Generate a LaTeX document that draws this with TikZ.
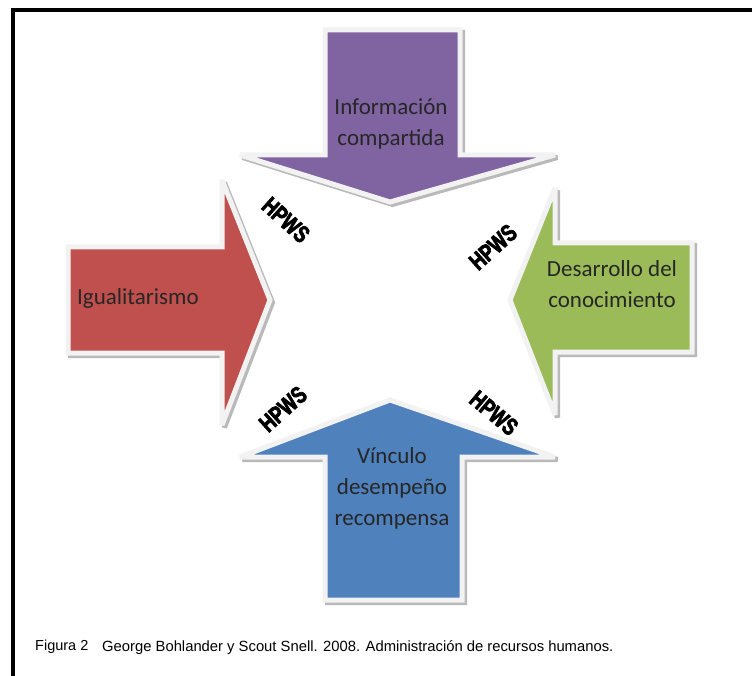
\documentclass[tikz,border=0pt]{standalone}
\usepackage{fontspec}
\setmainfont{Carlito}
\newfontfamily\capfont{Liberation Sans}
\newfontfamily\hpwsfont[FakeStretch=0.75,FakeBold=3]{Liberation Sans Bold}
\definecolor{infopurple}{HTML}{8064A2}
\definecolor{igualred}{HTML}{C0504D}
\definecolor{desagreen}{HTML}{9BBB59}
\definecolor{vincblue}{HTML}{4F81BD}
\begin{document}
\begin{tikzpicture}[x=1pt,y=-1pt,
        flecha/.style={fill=#1, draw=gray!10, line width=5pt, line join=miter, miter limit=1.5},
        sombra/.style={fill=gray!55, draw=gray!55, line width=5pt, line join=miter, miter limit=1.5, shift={(2.5,2.5)}},
        texto/.style={align=center, text=black!85, inner sep=0pt, font=\fontsize{23}{31}\selectfont},
        hpws/.style={inner sep=0pt, font=\hpwsfont\fontsize{24}{24}\selectfont}]
            \useasboundingbox (0,0) rectangle (752,676);
            \fill[white] (0,0) rectangle (752,676);
            \draw[line width=4pt, line join=miter] (13,676) -- (13,10.5) -- (752,10.5);
            \draw[sombra] (325,30) -- (460,30) -- (460,155) -- (555,155) -- (390,202) -- (240,155) -- (325,155) -- cycle;
            \draw[flecha=infopurple] (325,30) -- (460,30) -- (460,155) -- (555,155) -- (390,202) -- (240,155) -- (325,155) -- cycle;
            \draw[sombra] (68,247) -- (222,247) -- (222,180) -- (270,300) -- (222,425) -- (222,353) -- (68,353) -- cycle;
            \draw[flecha=igualred] (68,247) -- (222,247) -- (222,180) -- (270,300) -- (222,425) -- (222,353) -- (68,353) -- cycle;
            \draw[sombra] (692,243) -- (555,243) -- (555,188) -- (510,300) -- (555,415) -- (555,352) -- (692,352) -- cycle;
            \draw[flecha=desagreen] (692,243) -- (555,243) -- (555,188) -- (510,300) -- (555,415) -- (555,352) -- (692,352) -- cycle;
            \draw[sombra] (390,400) -- (555,457) -- (462,457) -- (462,600) -- (325,600) -- (325,457) -- (240,457) -- cycle;
            \draw[flecha=vincblue] (390,400) -- (555,457) -- (462,457) -- (462,600) -- (325,600) -- (325,457) -- (240,457) -- cycle;
            \node[texto] (info) at (391,124) {Información\\compartida};
            \node[texto, anchor=west] (igual) at (77,298) {Igualitarismo};
            \node[texto] (desarrollo) at (612,284) {Desarrollo del\\conocimiento};
            \node[texto] (vinculo) at (392,488) {Vínculo\\desempeño\\recompensa};
            \node[hpws, rotate=-42] (hpwsa) at (286,220) {HPWS};
            \node[hpws, rotate=42] (hpwsb) at (493,247) {HPWS};
            \node[hpws, rotate=42] (hpwsc) at (283,409) {HPWS};
            \node[hpws, rotate=-40] (hpwsd) at (494,413) {HPWS};
            \node[anchor=base west, inner sep=0pt, font=\capfont\fontsize{14.5}{16}\selectfont] (fig) at (35,650) {Figura 2};
            \node[anchor=base west, inner sep=0pt, font=\capfont\fontsize{14.8}{16}\selectfont] (fuente) at (102,651) {George Bohlander y Scout Snell. 2008. Administración de recursos humanos.};
        \end{tikzpicture}
\end{document}
